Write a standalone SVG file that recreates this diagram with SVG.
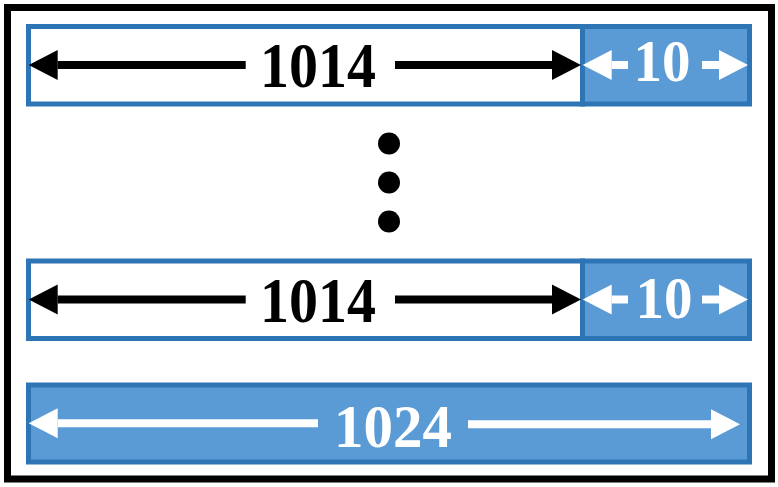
<svg xmlns="http://www.w3.org/2000/svg" width="778" height="487" viewBox="0 0 778 487">
<style>
.box{fill:#FFFFFF;stroke:#2E75B6;stroke-width:5}
.bbox{fill:#5B9BD5;stroke:#2E75B6;stroke-width:5}
.lbl{font-family:"Liberation Serif","Times New Roman",serif;font-weight:bold;text-anchor:middle}
.blk{fill:#000000}
.wht{fill:#FFFFFF}
.la{stroke:#000000;stroke-width:8;fill:none;marker-end:url(#hb)}
.lw{stroke:#FFFFFF;stroke-width:8;fill:none;marker-end:url(#hw)}
</style>
<defs>
<marker id="hb" markerUnits="userSpaceOnUse" viewBox="0 0 29 30" refX="0" refY="15" markerWidth="29" markerHeight="30" orient="auto" overflow="visible">
<path d="M0,0 L29,15 L0,30 Z" fill="#000000"/>
</marker>
<marker id="hw" markerUnits="userSpaceOnUse" viewBox="0 0 29 30" refX="0" refY="15" markerWidth="29" markerHeight="30" orient="auto" overflow="visible">
<path d="M0,0 L29,15 L0,30 Z" fill="#FFFFFF"/>
</marker>
</defs>
<rect width="778" height="487" fill="#FFFFFF"/>
<g id="frame">
<rect x="7.5" y="7.5" width="764" height="471.5" fill="none" stroke="#000000" stroke-width="7"/>
</g>
<g id="row1">
<rect class="box" x="28.5" y="26.5" width="554" height="77.5"/>
<rect class="bbox" x="582.5" y="26.5" width="167" height="77.5"/>
<text class="lbl blk" x="318" y="87" font-size="63" textLength="116" lengthAdjust="spacingAndGlyphs">1014</text>
<text class="lbl wht" x="662" y="80.5" font-size="60" textLength="57" lengthAdjust="spacingAndGlyphs">10</text>
</g>
<g id="dots">
<circle cx="389" cy="143.5" r="11" fill="#000000"/>
<circle cx="389" cy="182.5" r="11" fill="#000000"/>
<circle cx="389" cy="221.5" r="11" fill="#000000"/>
</g>
<g id="row2">
<rect class="box" x="28.5" y="261" width="554" height="77.5"/>
<rect class="bbox" x="582.5" y="261" width="167" height="77.5"/>
<text class="lbl blk" x="318" y="321.5" font-size="63" textLength="116" lengthAdjust="spacingAndGlyphs">1014</text>
<text class="lbl wht" x="664" y="317.5" font-size="60" textLength="57" lengthAdjust="spacingAndGlyphs">10</text>
</g>
<g id="row3">
<rect class="bbox" x="28.5" y="385" width="721" height="77"/>
<text class="lbl wht" x="393" y="446.5" font-size="62" textLength="118" lengthAdjust="spacingAndGlyphs">1024</text>
</g>
<g id="connectors">
<line class="la" x1="245.7" y1="65" x2="57.7" y2="65"/>
<line class="la" x1="395" y1="65" x2="552" y2="65"/>
<line class="lw" x1="628" y1="65" x2="611.7" y2="65"/>
<line class="lw" x1="702" y1="65" x2="719" y2="65"/>
<line class="la" x1="245.7" y1="299.5" x2="57.7" y2="299.5"/>
<line class="la" x1="395" y1="299.5" x2="552" y2="299.5"/>
<line class="lw" x1="628" y1="299.5" x2="611.7" y2="299.5"/>
<line class="lw" x1="702" y1="299.5" x2="719" y2="299.5"/>
<line class="lw" x1="318" y1="423.3" x2="57.7" y2="423.3"/>
<line class="lw" x1="468" y1="424.3" x2="711" y2="424.3"/>
</g>
</svg>
